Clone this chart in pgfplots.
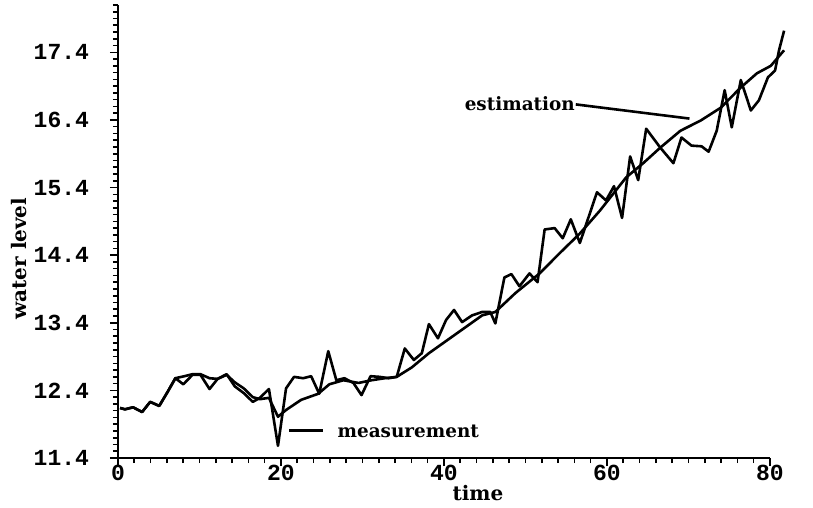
\documentclass[border=0pt]{standalone}
\usepackage{fontspec}
\usepackage{pgfplots}
\pgfplotsset{compat=1.18}
\setmainfont{DejaVu Serif}
\newfontfamily\tickfont{Liberation Mono}
\newcommand{\lblfont}{\fontsize{9.2}{11}\selectfont\bfseries}
\newcommand{\axlblfont}{\fontsize{10}{12}\selectfont\bfseries}
\newcommand{\tkfont}{\fontsize{11.5}{13}\selectfont\tickfont\bfseries}
\begin{document}
\begin{tikzpicture}
\useasboundingbox (-59pt,-25pt) rectangle (347.5pt,229pt);
\begin{axis}[
  at={(0,0)}, anchor=south west,
  scale only axis, width=326pt, height=226.5pt,
  xmin=0, xmax=80, ymin=11.4, ymax=18.1,
  axis lines=left, axis line style={-, line width=1.2pt},
  clip=false,
  xtick={0,20,40,60,80}, xticklabels={0,20,40,60,80},
  ytick={11.4,12.4,13.4,14.4,15.4,16.4,17.4},
  yticklabels={11.4,12.4,13.4,14.4,15.4,16.4,17.4},
  minor xtick={0,2,...,80},
  minor ytick={11.4,11.5,...,18.15},
  tick align=outside,
  major tick length=4pt, minor tick length=2.5pt,
  tick style={black, line width=0.8pt},
  xticklabel style={font=\tkfont, yshift=4pt},
  yticklabel style={font=\tkfont, xshift=-7pt},
  xlabel={time}, ylabel={water level},
  xlabel style={font=\axlblfont, at={(axis description cs:0.552,-0.078)}, anchor=center},
  ylabel style={font=\axlblfont, at={(axis description cs:-0.152,0.44)}, anchor=center, rotate=0},
]
% measurement
\addplot[black, line width=1.3pt, line join=round] coordinates {
(0.25,12.14)(0.86,12.12)(1.85,12.15)(2.96,12.08)(3.95,12.23)(5.06,12.17)
(6.05,12.37)(7.04,12.58)(8.02,12.49)(9.14,12.63)(10.12,12.63)(11.23,12.42)
(12.22,12.57)(13.33,12.64)(14.32,12.46)(15.43,12.36)(16.54,12.23)(17.41,12.29)
(18.52,12.42)(19.63,11.58)(20.62,12.43)(21.6,12.60)(22.72,12.58)(23.7,12.61)
(24.69,12.35)(25.8,12.98)(26.79,12.55)(27.78,12.58)(28.89,12.51)(29.88,12.33)
(30.99,12.61)(32.1,12.60)(33.21,12.58)(34.2,12.60)(35.19,13.02)(36.3,12.85)
(37.28,12.95)(38.15,13.38)(39.26,13.17)(40.25,13.44)(41.23,13.59)(42.22,13.41)
(43.46,13.51)(44.69,13.56)(45.68,13.56)(46.3,13.39)(47.41,14.07)(48.27,14.12)
(49.26,13.94)(50.49,14.13)(51.48,14.00)(52.35,14.78)(53.58,14.80)(54.57,14.65)
(55.56,14.93)(56.67,14.58)(58.77,15.33)(59.88,15.21)(60.86,15.42)(61.85,14.95)
(62.84,15.86)(63.83,15.51)(64.81,16.27)(66.54,15.99)(68.15,15.76)(69.14,16.14)
(70.37,16.02)(71.6,16.01)(72.47,15.93)(73.46,16.24)(74.44,16.84)(75.31,16.29)
(76.42,16.99)(77.65,16.54)(78.64,16.69)(79.75,17.03)(80.62,17.13)(81.11,17.43)
(81.73,17.72)
};
% estimation
\addplot[black, line width=1.3pt, line join=round] coordinates {
(0.25,12.14)(0.86,12.12)(1.85,12.15)(2.96,12.08)(3.95,12.23)(5.06,12.17)
(6.05,12.37)(7.04,12.58)(8.15,12.61)(9.14,12.64)(10.12,12.64)(11.23,12.58)
(12.22,12.57)(13.33,12.63)(14.32,12.52)(15.43,12.43)(16.54,12.30)(17.41,12.27)
(18.52,12.29)(19.63,12.01)(20.62,12.11)(22.47,12.26)(24.57,12.35)(25.93,12.49)
(27.65,12.55)(29.51,12.51)(31.11,12.55)(32.72,12.58)(34.2,12.60)(36.05,12.74)
(38.15,12.95)(40.37,13.14)(42.59,13.33)(44.69,13.51)(46.3,13.56)(48.77,13.84)
(51.73,14.13)(54.2,14.43)(56.67,14.72)(59.14,15.06)(62.35,15.55)(64.44,15.76)
(66.54,15.99)(69.01,16.24)(71.48,16.39)(73.95,16.58)(76.42,16.88)(78.4,17.09)
(80.1,17.20)(81.73,17.43)
};
\draw[line width=1.3pt] (axis cs:56.17,16.63) -- (axis cs:70.12,16.42);
\node[anchor=west, font=\lblfont, inner sep=0pt] at (axis cs:42.5,16.64) {estimation};
\draw[line width=1.3pt] (axis cs:21.0,11.81) -- (axis cs:25.2,11.81);
\node[anchor=west, font=\lblfont, inner sep=0pt] at (axis cs:26.9,11.80) {measurement};
\end{axis}
\end{tikzpicture}
\end{document}
